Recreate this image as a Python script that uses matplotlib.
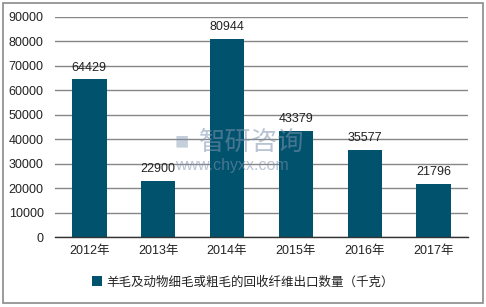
import matplotlib
matplotlib.use("Agg")
import matplotlib.pyplot as plt
from matplotlib.patches import Rectangle

years = ["2012年", "2013年", "2014年", "2015年", "2016年", "2017年"]
values = [64429, 22900, 80944, 43379, 35577, 21796]
yticks = [0, 10000, 20000, 30000, 40000, 50000, 60000, 70000, 80000, 90000]
series_name = "羊毛及动物细毛或粗毛的回收纤维出口数量（千克）"

C = {"bar": "#00526D", "grid": "#868686", "text": "#222222", "axis": "#333333"}
FAM = ["Liberation Sans", "Noto Sans CJK SC", "DejaVu Sans"]
plt.rcParams["font.family"] = FAM

fig = plt.figure(figsize=(4.86, 3.07), dpi=100, facecolor="white")
fig.patches.append(Rectangle((0.006, 0.012), 0.988, 0.978, transform=fig.transFigure,
                             fill=False, edgecolor="#8a8a8a", linewidth=1.2))
ax = fig.add_axes([0.113, 0.228, 0.850, 0.717])

x = range(len(years))
ax.bar(x, values, width=0.5, color=C["bar"], zorder=2, label=series_name)
for i, v in zip(x, values):
    ax.annotate(str(v), (i, v), xytext=(0, 4), textcoords="offset points",
                ha="center", va="bottom", fontsize=9, color=C["text"], zorder=4)

ax.set_xlim(-0.5, len(years) - 0.5)
ax.set_ylim(0, 90000)
ax.set_yticks(yticks)
ax.set_yticklabels([str(t) for t in yticks])
ax.set_xticks(list(x))
ax.set_xticklabels(years)
ax.tick_params(axis="y", length=0, pad=8, labelsize=9, labelcolor=C["text"])
ax.tick_params(axis="x", length=0, pad=6, labelsize=9, labelcolor=C["text"])
ax.yaxis.grid(True, color=C["grid"], linewidth=1.0, zorder=0)
ax.set_axisbelow(True)
for s in ["top", "right", "left"]:
    ax.spines[s].set_visible(False)
ax.spines["bottom"].set_color(C["axis"])
ax.spines["bottom"].set_linewidth(1.0)

# watermark
fig.text(0.41, 0.535, "智研咨询", fontsize=19, color="#7f93b0", alpha=0.55,
         ha="left", va="center", family=["Noto Sans CJK SC"], zorder=5)
fig.text(0.36, 0.535, "■", fontsize=17, color="#7f93b0", alpha=0.45,
         ha="left", va="center", zorder=5)
fig.text(0.36, 0.462, "www.chyxx.com", fontsize=11.5, color="#7f93b0", alpha=0.55,
         ha="left", va="center", zorder=5)

fig.legend(loc="center", bbox_to_anchor=(0.5, 0.081), frameon=False,
           fontsize=9, handlelength=0.8, handleheight=0.8, handletextpad=0.3,
           labelcolor=C["text"])

fig.savefig("out.png", dpi=100, facecolor="white")
